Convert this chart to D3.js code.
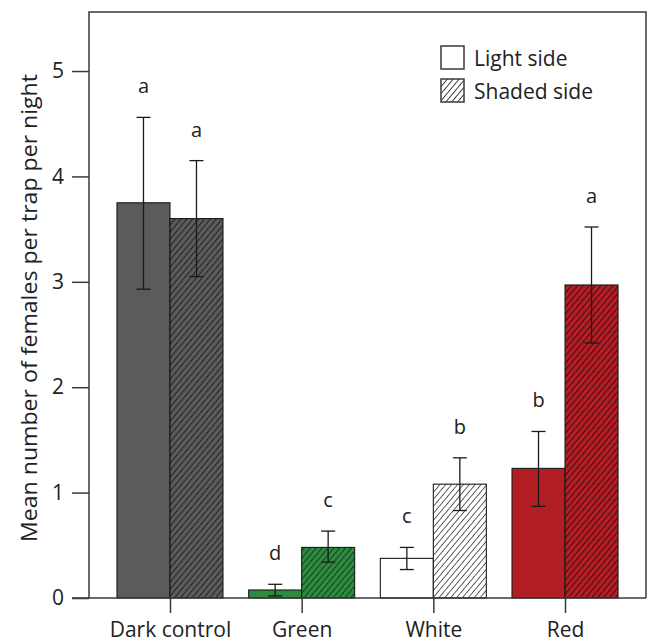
<!DOCTYPE html>
<html lang="en">
  <head>
    <meta charset="UTF-8" />
    <title>Females per trap</title>
    <script src="https://cdn.jsdelivr.net/npm/d3@7"></script>
    <style>
      body {
        margin: 0;
        background: #fff;
      }
      svg {
        display: block;
        font-family: "Open Sans", sans-serif;
      }
    </style>
  </head>
  <body>
    <svg width="652" height="642"></svg>
    <script>
      // treatments on x, light / shaded side within each
      const categories = ["Dark control", "Green", "White", "Red"];
      const sides = ["Light side", "Shaded side"];
      const lightMean = [3.75, 0.076, 0.376, 1.23];
      const lightLow = [2.93, 0.02, 0.27, 0.87];
      const lightHigh = [4.56, 0.13, 0.48, 1.58];
      const shadedMean = [3.6, 0.48, 1.08, 2.97];
      const shadedLow = [3.05, 0.34, 0.83, 2.42];
      const shadedHigh = [4.15, 0.635, 1.33, 3.52];
      const lightLetters = ["a", "d", "c", "b"];
      const shadedLetters = ["a", "c", "b", "a"];
      const yTicks = [0, 1, 2, 3, 4, 5];

      const fills = ["#5b5b5b", "#2d8a3e", "#ffffff", "#b21e24"];
      const hatchLines = ["#1a1a1a", "#0d3416", "#444444", "#360809"];

      const mLeft = 89, mTop = 12, mRight = 646, mBottom = 598;
      const barW = 53;

      const svg = d3.select("svg");
      const defs = svg.append("defs");

      const rows = [];
      categories.forEach((c, i) => {
        rows.push({ cat: c, i: i, side: sides[0], mean: lightMean[i], lo: lightLow[i], hi: lightHigh[i], letter: lightLetters[i] });
        rows.push({ cat: c, i: i, side: sides[1], mean: shadedMean[i], lo: shadedLow[i], hi: shadedHigh[i], letter: shadedLetters[i] });
      });

      // one hatch pattern per colour, plus one for the legend
      function hatch(id, bg, line) {
        const p = defs.append("pattern")
          .attr("id", id)
          .attr("patternUnits", "userSpaceOnUse")
          .attr("width", 4.5)
          .attr("height", 4.5)
          .attr("patternTransform", "rotate(40)");
        p.append("rect").attr("width", 4.5).attr("height", 4.5).attr("fill", bg);
        p.append("line")
          .attr("x1", 0).attr("y1", 0).attr("x2", 0).attr("y2", 4.5)
          .attr("stroke", line)
          .attr("stroke-width", 1.7);
      }
      fills.forEach((f, i) => hatch("hatch" + i, f, hatchLines[i]));
      hatch("hatchLegend", "#ffffff", "#222");

      const x = d3.scalePoint().domain(categories).range([mLeft, mRight]).padding(0.615);
      const xSide = d3.scaleBand().domain(sides).range([-barW, barW]);
      const y = d3.scaleLinear().domain([0, 5.56]).range([mBottom, mTop]);

      // bars
      svg.append("g")
        .selectAll("rect")
        .data(rows)
        .join("rect")
        .attr("x", d => x(d.cat) + xSide(d.side))
        .attr("y", d => y(d.mean))
        .attr("width", xSide.bandwidth())
        .attr("height", d => y(0) - y(d.mean))
        .attr("fill", d => d.side === sides[0] ? fills[d.i] : "url(#hatch" + d.i + ")")
        .attr("stroke", "#1a1a1a")
        .attr("stroke-width", 1.1);

      // error bars
      const err = svg.append("g").attr("stroke", "#1a1a1a").attr("stroke-width", 1.3);
      rows.forEach(d => {
        const cx = x(d.cat) + xSide(d.side) + xSide.bandwidth() / 2;
        err.append("line").attr("x1", cx).attr("x2", cx).attr("y1", y(d.lo)).attr("y2", y(d.hi));
        err.append("line").attr("x1", cx - 7).attr("x2", cx + 7).attr("y1", y(d.lo)).attr("y2", y(d.lo));
        err.append("line").attr("x1", cx - 7).attr("x2", cx + 7).attr("y1", y(d.hi)).attr("y2", y(d.hi));
      });

      // significance letters
      svg.append("g")
        .selectAll("text")
        .data(rows)
        .join("text")
        .attr("x", d => x(d.cat) + xSide(d.side) + xSide.bandwidth() / 2)
        .attr("y", d => y(d.hi) - 24)
        .attr("text-anchor", "middle")
        .attr("font-size", 20)
        .attr("fill", "#222")
        .text(d => d.letter);

      // frame (left, top, right)
      svg.append("path")
        .attr("d", `M${mLeft},${mBottom}V${mTop}H${mRight}V${mBottom}`)
        .attr("fill", "none")
        .attr("stroke", "#3a3a3a")
        .attr("stroke-width", 1.5);

      const yAxis = svg.append("g")
        .attr("transform", `translate(${mLeft},0)`)
        .call(d3.axisLeft(y).tickValues(yTicks).tickSize(17).tickPadding(8).tickFormat(d3.format("d")));
      yAxis.select(".domain").remove();
      yAxis.selectAll("line").attr("stroke", "#3a3a3a").attr("stroke-width", 1.5);
      yAxis.selectAll("text").attr("font-size", 21).attr("fill", "#222").attr("font-family", "Open Sans");

      const xAxis = svg.append("g")
        .attr("transform", `translate(0,${mBottom})`)
        .call(d3.axisBottom(x).tickSize(15).tickPadding(9));
      xAxis.select(".domain")
        .attr("d", `M${mLeft - 17},0H${mRight}`)
        .attr("stroke", "#3a3a3a")
        .attr("stroke-width", 1.5);
      xAxis.selectAll("line").attr("stroke", "#3a3a3a").attr("stroke-width", 1.5);
      xAxis.selectAll("text").attr("font-size", 21).attr("fill", "#222").attr("font-family", "Open Sans");

      // y title
      svg.append("text")
        .attr("transform", "translate(37,308) rotate(-90)")
        .attr("text-anchor", "middle")
        .attr("font-size", 21)
        .attr("textLength", 468)
        .attr("lengthAdjust", "spacingAndGlyphs")
        .attr("fill", "#222")
        .text("Mean number of females per trap per night");

      // legend
      const legend = svg.append("g").attr("transform", "translate(441,46)");
      sides.forEach((s, i) => {
        const g = legend.append("g").attr("transform", `translate(0,${i * 33})`);
        g.append("rect")
          .attr("width", 23)
          .attr("height", 23)
          .attr("fill", i === 0 ? "#fff" : "url(#hatchLegend)")
          .attr("stroke", "#3a3a3a")
          .attr("stroke-width", 1.5);
        g.append("text")
          .attr("x", 33)
          .attr("y", 20)
          .attr("font-size", 21)
          .attr("fill", "#222")
          .text(s);
      });
    </script>
  </body>
</html>
